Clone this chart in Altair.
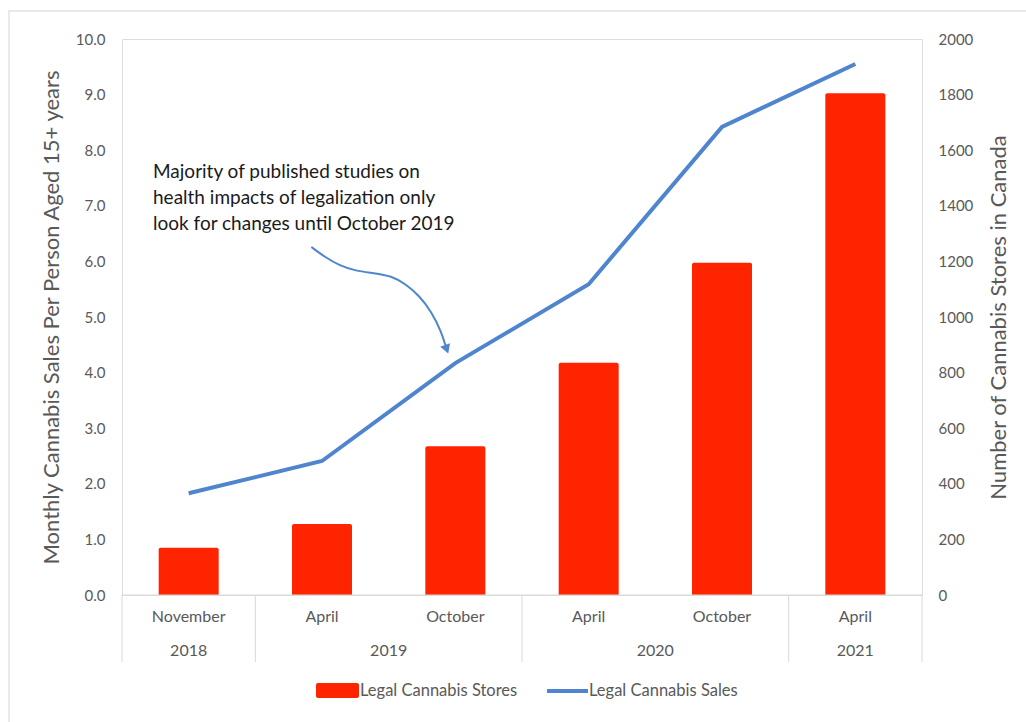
import altair as alt
import pandas as pd

# ---- data ----
months = ["November", "April", "October", "April", "October", "April"]
years = ["2018", "2019", "2019", "2020", "2020", "2021"]
stores = [170, 255, 535, 835, 1195, 1805]          # right axis (Number of stores)
sales = [1.83, 2.41, 4.17, 5.59, 8.42, 9.55]        # left axis (monthly sales per person)

year_groups = ["2018", "2019", "2020", "2021"]
year_start = [0, 1, 3, 5]
year_end = [1, 3, 5, 6]

annotation = "Majority of published studies on\nhealth impacts of legalization only\nlook for changes until October 2019"
# curved arrow path (category-index units, left-axis units)
arrow_x = [1.42, 1.52, 1.635, 1.75, 1.89, 2.02, 2.13, 2.23, 2.32, 2.395, 2.435]
arrow_y = [6.26, 6.08, 5.92, 5.83, 5.79, 5.74, 5.59, 5.38, 5.10, 4.74, 4.42]

RED = "#FF2400"
BLUE = "#4F84CE"
GRAY = "#595959"
LINE_GRAY = "#D9D9D9"
FONT = "Lato"

W, H = 800, 556

df = pd.DataFrame({"idx": list(range(len(months))), "month": months, "year": years,
                   "stores": stores, "sales": sales})
yr = pd.DataFrame({"year": year_groups, "start": year_start, "end": year_end})
arr = pd.DataFrame({"order": list(range(len(arrow_x))), "ax": arrow_x, "ay": arrow_y})
bounds = pd.DataFrame({"b": [0] + year_end})
legend_df = pd.DataFrame({"label": ["Legal Cannabis Stores", "Legal Cannabis Sales"]})

xscale = alt.Scale(domain=[0, len(months)], nice=False, zero=False)

bars = alt.Chart(df).transform_calculate(
    x0="datum.idx + 0.275", x1="datum.idx + 0.725", base="0"
).mark_rect(color=RED, cornerRadiusTopLeft=2, cornerRadiusTopRight=2).encode(
    x=alt.X("x0:Q", scale=xscale, axis=None),
    x2="x1:Q",
    y=alt.Y("stores:Q", scale=alt.Scale(domain=[0, 2000], nice=False),
            axis=alt.Axis(orient="right", values=list(range(0, 2001, 200)), format="d",
                          title="Number of Cannabis Stores in Canada", grid=False,
                          domain=False, ticks=False, labelPadding=16, titlePadding=38,
                          titleAngle=270,
                          labelFontSize=15, titleFontSize=22, labelColor=GRAY,
                          titleColor=GRAY, labelFont=FONT, titleFont=FONT,
                          titleFontWeight="normal")),
    y2="base:Q",
)

line = alt.Chart(df).transform_calculate(xc="datum.idx + 0.5").mark_line(
    color=BLUE, strokeWidth=4
).encode(
    x=alt.X("xc:Q", scale=xscale, axis=None),
    y=alt.Y("sales:Q", scale=alt.Scale(domain=[0, 10], nice=False),
            axis=alt.Axis(orient="left", values=list(range(0, 11)), format=".1f",
                          title="Monthly Cannabis Sales Per Person Aged 15+ years",
                          grid=False, domain=False, ticks=False, labelPadding=17,
                          titlePadding=12, labelFontSize=15, titleFontSize=22,
                          labelColor=GRAY, titleColor=GRAY, labelFont=FONT,
                          titleFont=FONT, titleFontWeight="normal")),
)

arrow = alt.Chart(arr).mark_line(color=BLUE, strokeWidth=2, interpolate="basis").encode(
    x=alt.X("ax:Q", scale=xscale, axis=None),
    y=alt.Y("ay:Q"),
    order="order:Q",
)
arrow_head = alt.Chart(arr).transform_filter(
    "datum.order == %d" % (len(arrow_x) - 1)
).mark_point(
    shape="triangle-down", filled=True, color=BLUE, size=110, angle=340, opacity=1
).encode(
    x=alt.X("ax:Q", scale=xscale, axis=None),
    y=alt.Y("ay:Q"),
)

# category axis: baseline, separators, month + year labels
baseline = alt.Chart(bounds).transform_filter("datum.b == 0").transform_calculate(
    e="%d" % len(months)
).mark_rule(color=LINE_GRAY, strokeWidth=1).encode(
    x=alt.X("b:Q", scale=xscale, axis=None), x2="e:Q",
    y=alt.value(H),
)
separators = alt.Chart(bounds).mark_rule(color=LINE_GRAY, strokeWidth=1).encode(
    x=alt.X("b:Q", scale=xscale, axis=None),
    y=alt.value(H), y2=alt.value(H + 67),
)
month_labels = alt.Chart(df).transform_calculate(xc="datum.idx + 0.5").mark_text(
    font=FONT, fontSize=16, color=GRAY, baseline="middle"
).encode(
    x=alt.X("xc:Q", scale=xscale, axis=None),
    y=alt.value(H + 22),
    text="month:N",
)
year_labels = alt.Chart(yr).transform_calculate(xc="(datum.start + datum.end) / 2").mark_text(
    font=FONT, fontSize=16, color=GRAY, baseline="middle"
).encode(
    x=alt.X("xc:Q", scale=xscale, axis=None),
    y=alt.value(H + 56),
    text="year:N",
)

note = alt.Chart(pd.DataFrame({"t": [annotation]})).mark_text(
    font=FONT, fontSize=19, color="#1a1a1a", align="left", baseline="middle",
    lineBreak="\n", lineHeight=26
).encode(
    x=alt.value(31), y=alt.value(133), text="t:N",
)

# legend
leg_rect = alt.Chart(legend_df).transform_filter("datum.label == 'Legal Cannabis Stores'").mark_rect(
    color=RED, cornerRadius=2
).encode(x=alt.value(194), x2=alt.value(237), y=alt.value(644), y2=alt.value(659))
leg_line = alt.Chart(legend_df).transform_filter("datum.label == 'Legal Cannabis Sales'").mark_rule(
    color=BLUE, strokeWidth=4
).encode(x=alt.value(425), x2=alt.value(466), y=alt.value(652))
leg_text = alt.Chart(legend_df).transform_calculate(
    lx="datum.label == 'Legal Cannabis Stores' ? 238 : 467"
).mark_text(
    font=FONT, fontSize=16.5, color=GRAY, align="left", baseline="middle"
).encode(x=alt.X("lx:Q", scale=None, axis=None), y=alt.value(652), text="label:N")

# faint frame (top and left edges)
frame_top = alt.Chart(legend_df).transform_filter("datum.label == 'Legal Cannabis Sales'").mark_rule(
    color="#E3E3E3", strokeWidth=1.5
).encode(x=alt.value(-114), x2=alt.value(910), y=alt.value(-28))
frame_left = alt.Chart(legend_df).transform_filter("datum.label == 'Legal Cannabis Sales'").mark_rule(
    color="#E3E3E3", strokeWidth=1.5
).encode(x=alt.value(-113), y=alt.value(-28), y2=alt.value(700))

inner = alt.layer(
    line, arrow, arrow_head, baseline, separators, month_labels, year_labels, note,
    leg_rect, leg_line, leg_text, frame_top, frame_left
)

chart = alt.layer(bars, inner).resolve_scale(y="independent").properties(
    width=W, height=H,
    autosize=alt.AutoSizeParams(type="none"),
    padding={"left": 122, "top": 39, "right": 104, "bottom": 127},
).configure_view(stroke=None).configure(background="white")

chart.save("out.html", embed_options={"renderer": "svg", "actions": False})
